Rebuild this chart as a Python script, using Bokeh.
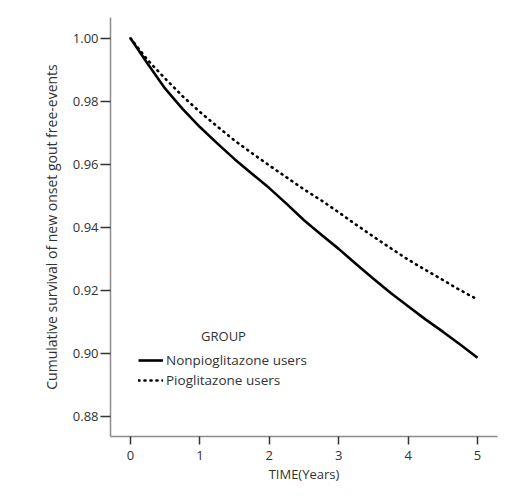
from bokeh.plotting import figure
from bokeh.models import Legend, LegendItem, Label, FixedTicker
from bokeh.embed import file_html
from bokeh.resources import INLINE

# survival estimates
years = [0, 0.25, 0.5, 0.75, 1.0, 1.25, 1.5, 1.75, 2.0, 2.25, 2.5,
         2.75, 3.0, 3.25, 3.5, 3.75, 4.0, 4.25, 4.5, 4.75, 5.0]
non_pio = [1.000, 0.9918, 0.9840, 0.9776, 0.9718, 0.9666, 0.9616, 0.9570,
           0.9524, 0.9474, 0.9422, 0.9376, 0.9331, 0.9283, 0.9236, 0.9191,
           0.9149, 0.9107, 0.9068, 0.9027, 0.8985]
pio = [1.000, 0.9930, 0.9872, 0.9816, 0.9766, 0.9720, 0.9675, 0.9635,
       0.9596, 0.9558, 0.9520, 0.9485, 0.9447, 0.9408, 0.9370, 0.9333,
       0.9297, 0.9264, 0.9232, 0.9200, 0.9170]

x_ticks = [0, 1, 2, 3, 4, 5]
y_ticks = [0.88, 0.90, 0.92, 0.94, 0.96, 0.98, 1.00]

FONT = "Open Sans"
TXT = "#333333"

p = figure(width=510, height=485, output_backend="svg", toolbar_location=None,
           x_range=(-0.288, 5.288), y_range=(0.8735, 1.0066),
           x_axis_label="TIME(Years)",
           y_axis_label="Cumulative survival of new onset gout free-events",
           min_border_left=110, min_border_right=13,
           min_border_top=17, min_border_bottom=46)
p.outline_line_color = None
p.grid.visible = False
p.background_fill_color = "white"

p.xaxis.ticker = FixedTicker(ticks=x_ticks)
p.yaxis.ticker = FixedTicker(ticks=y_ticks)
p.yaxis.major_label_overrides = {t: f"{t:.2f}" for t in y_ticks}

for ax in [p.xaxis, p.yaxis]:
    ax.axis_line_color = "#8c8c8c"
    ax.axis_line_width = 1.5
    ax.major_tick_line_color = "#333333"
    ax.major_tick_line_width = 1.5
    ax.major_tick_in = 0
    ax.minor_tick_line_color = None
    ax.major_label_text_font = FONT
    ax.major_label_text_font_size = "13px"
    ax.major_label_text_color = TXT
    ax.axis_label_text_font = FONT
    ax.axis_label_text_font_size = "13px"
    ax.axis_label_text_font_style = "normal"
    ax.axis_label_text_color = TXT

p.yaxis.major_tick_out = 10
p.yaxis.major_label_standoff = 2
p.yaxis.axis_label_standoff = 9
p.yaxis.axis_label_text_font_size = "14px"
p.xaxis.major_tick_out = 8
p.xaxis.major_label_standoff = 6
p.xaxis.axis_label_standoff = 2

solid = p.line(years, non_pio, line_color="black", line_width=2.6,
               line_join="round")
dots = p.line(years, pio, line_color="black", line_width=2.6,
              line_dash="1 5", line_cap="round", line_join="round")

legend = Legend(items=[LegendItem(label="Nonpioglitazone users", renderers=[solid]),
                       LegendItem(label="Pioglitazone users", renderers=[dots])],
                location=(28, 46), padding=0, margin=0, spacing=0,
                glyph_width=25, glyph_height=20, label_height=20,
                label_standoff=3, border_line_color=None,
                background_fill_alpha=0,
                label_text_font=FONT, label_text_font_size="13.5px",
                label_text_color=TXT)
p.add_layout(legend)

p.add_layout(Label(x=113, y=101, x_units="screen", y_units="screen",
                   text="GROUP", text_align="center", text_baseline="middle",
                   text_font=FONT, text_font_size="13px", text_color=TXT))

open("out.html", "w").write(file_html(p, INLINE))
